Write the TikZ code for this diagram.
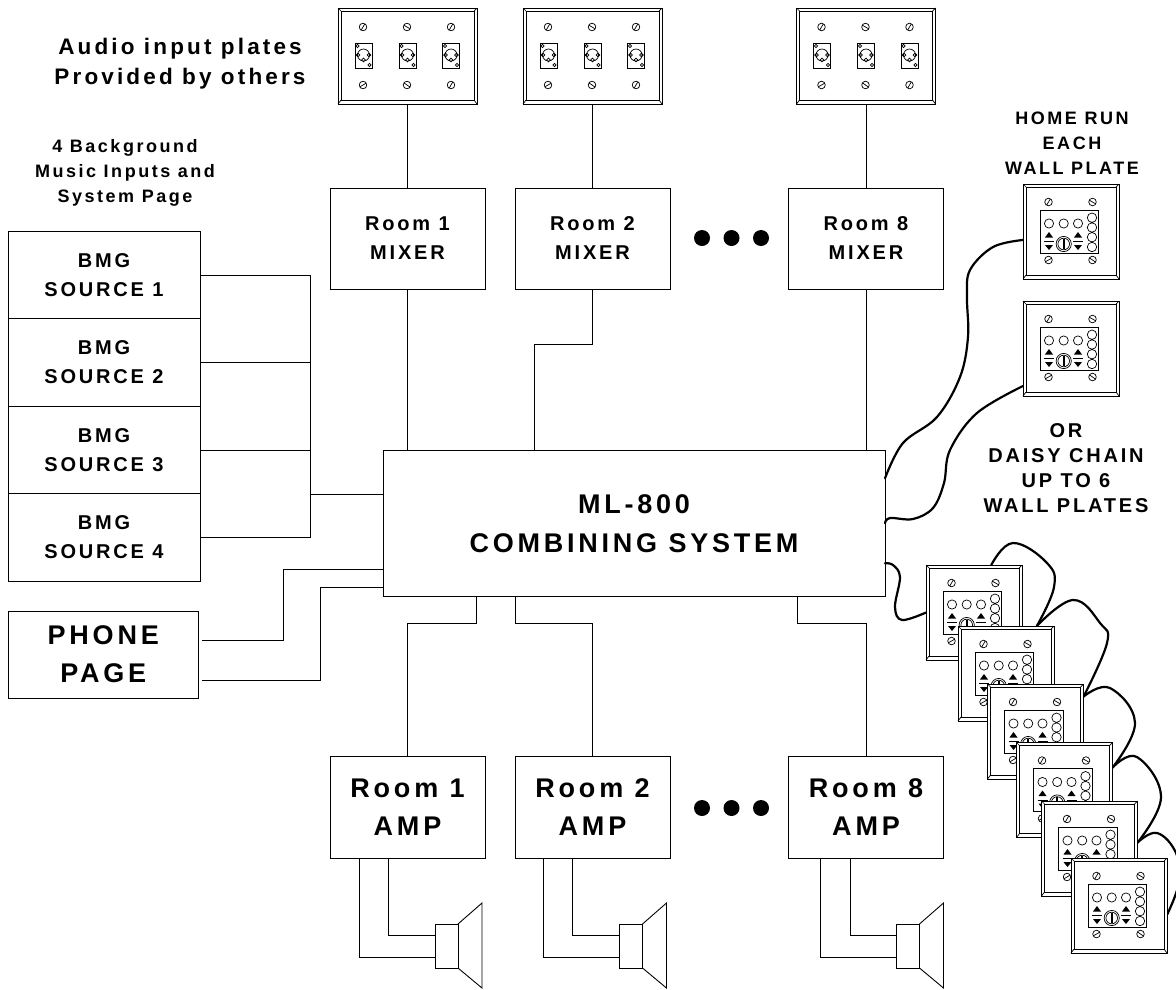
\documentclass[tikz,border=0pt]{standalone}
\usepackage{fontspec}
\setmainfont[LetterSpace=14]{Liberation Sans}
\usetikzlibrary{positioning,calc,backgrounds}

\newcommand\screwmark[3]{\draw[thin] (#1,#2) circle (3.8) (#1,#2) ++(#3:3.8) -- ++(#3+180:7.6);}
\newcommand\bevel[2]{
  \draw[thin] (3,3) rectangle (#1-3,#2-4);
  \draw[thin] (0,0)--(3,3) (#1,0)--(#1-3,3) (0,#2)--(3,#2-4) (#1,#2)--(#1-3,#2-4);}
\newcommand\arrowpair[1]{
  \fill (#1-4,53.5)--(#1+4,53.5)--(#1,48)--cycle;
  \draw[thin] (#1-5,57.5)--(#1+5,57.5);
  \fill (#1-4,61)--(#1+4,61)--(#1,66)--cycle;}
\newcommand\wallplate[3]{
  \node[plate] (#1) at (#2,#3) {};
  \begin{scope}[shift={(#1.north west)}]
    \bevel{96}{95}
    \screwmark{25.5}{18}{-60}\screwmark{69.5}{18}{30}
    \screwmark{25.5}{76}{-30}\screwmark{69.5}{76}{35}
    \draw[thin] (17,26) rectangle (75.5,69);
    \draw[thin] (26,39.5) circle (4.6) (40.7,39.5) circle (4.6) (55,39.5) circle (4.6);
    \draw[thin] (69,33.7) circle (4.7) (69,43.5) circle (4.7) (69,53.2) circle (4.7) (69,63) circle (4.7);
    \arrowpair{26}\arrowpair{55}
    \draw[thin] (40.7,60) circle (7.6) (40.7,60) circle (5.8);
    \fill (39.7,54.5) rectangle (41.7,64.5);
  \end{scope}}
\newcommand\xlrmark[1]{
  \draw[thin] (#1-8.5,35) rectangle (#1+8.5,60);
  \draw[thin] (#1,47) circle (6) (#1-5.5,47) circle (1.8) (#1+5.5,47) circle (1.8) (#1,52) circle (1.8)
    (#1-6,38) circle (1.6) (#1+6,57) circle (1.6);}
\newcommand\inputplate[2]{
  \node[plate,minimum width=139pt,minimum height=96pt,#2] (#1) {};
  \begin{scope}[shift={(#1.north west)}]
    \bevel{139}{96}
    \screwmark{25}{19}{-60}\screwmark{69}{19}{30}\screwmark{113}{19}{-60}
    \screwmark{25}{77}{-30}\screwmark{69}{77}{35}\screwmark{113}{77}{-60}
    \xlrmark{25.5}\xlrmark{69.5}\xlrmark{113}
  \end{scope}}

\begin{document}
\begin{tikzpicture}[x=1pt,y=-1pt,line width=.9pt,inner sep=0pt,outer sep=0pt,
  thin/.style={line width=.7pt},
  wire/.style={line width=2.2pt,line cap=round},
  plate/.style={draw,fill=white,line width=.9pt,minimum width=96pt,minimum height=95pt},
  txt/.style={align=center,font=\fontsize{18}{25}\selectfont\bfseries},
  mixer/.style={draw,minimum width=155pt,minimum height=101pt,align=center,font=\fontsize{20}{29}\selectfont\bfseries},
  amp/.style={draw,minimum width=155pt,minimum height=102pt,align=center,font=\fontsize{27}{38}\selectfont\bfseries},
  bmg/.style={draw,minimum width=192pt,minimum height=87.5pt,align=center,font=\fontsize{20}{29}\selectfont\bfseries},
  spk/.style={draw,minimum width=23pt,minimum height=44pt},
  dotmark/.style={circle,fill=black,minimum size=16pt}]
  \useasboundingbox (0,0) rectangle (1176,989);

  \node[draw,minimum width=502pt,minimum height=146.5pt,align=center,font=\fontsize{27}{39}\selectfont\bfseries] (main) at (634,523.25) {ML-800\\COMBINING SYSTEM};

  \node[mixer] (mix1) at (407.5,238.5) {Room 1\\MIXER};
  \node[mixer,right=30pt of mix1] (mix2) {Room 2\\MIXER};
  \node[mixer,right=118.5pt of mix2] (mix8) {Room 8\\MIXER};
  \inputplate{in1}{above=84pt of mix1}
  \inputplate{in2}{above=84pt of mix2}
  \inputplate{in8}{above=84pt of mix8}
  \draw (in1) -- (mix1); \draw (in2) -- (mix2); \draw (in8) -- (mix8);

  \node[amp,below=467pt of mix1] (amp1) {Room 1\\AMP};
  \node[amp,below=467pt of mix2] (amp2) {Room 2\\AMP};
  \node[amp,below=467pt of mix8] (amp8) {Room 8\\AMP};

  \node[dotmark] (dm1) at (702,238) {};
  \node[dotmark,right=13.5pt of dm1] (dm2) {};
  \node[dotmark,right=13.5pt of dm2] (dm3) {};
  \node[dotmark] (da1) at (702,808) {};
  \node[dotmark,right=13.5pt of da1] (da2) {};
  \node[dotmark,right=13.5pt of da2] (da3) {};

  \coordinate (mid2) at (534,344);
  \draw (mix1) -- (mix1 |- main.north);
  \draw (mix2.south) |- (mid2) -- (mid2 |- main.north);
  \draw (mix8) -- (mix8 |- main.north);

  \coordinate (dn1) at (476,623);
  \coordinate (dn2) at (515,623);
  \coordinate (dn8) at (797,623);
  \draw (dn1 |- main.south) -- (dn1) -| (amp1.north);
  \draw (dn2 |- main.south) -- (dn2) -| (amp2.north);
  \draw (dn8 |- main.south) -- (dn8) -| (amp8.north);

  \foreach \n/\dx/\wa/\wb in {1/39/-19.5/-48.5,2/38.5/-20.5/-49,8/42/-16/-46}{
    \node[spk] (spk\n) at ($(amp\n.south)+(\dx,88)$) {};
    \draw (spk\n.north east) -- ++(24,-21) -- ++(0,85) -- (spk\n.south east);
    \draw ($(amp\n.south)+(\wa,0)$) |- ($(spk\n.west)+(0,-11)$);
    \draw ($(amp\n.south)+(\wb,0)$) |- ($(spk\n.west)+(0,11)$);
  }

  \node[bmg] (bmg1) at (104,275) {BMG\\SOURCE 1};
  \node[bmg,below=0pt of bmg1] (bmg2) {BMG\\SOURCE 2};
  \node[bmg,below=0pt of bmg2] (bmg3) {BMG\\SOURCE 3};
  \node[bmg,below=0pt of bmg3] (bmg4) {BMG\\SOURCE 4};
  \coordinate (bus) at (310,494);
  \draw (bmg1.east) -| (bus);
  \draw (bmg2.east) -| (bus);
  \draw (bmg3.east) -| (bus);
  \draw (bmg4.east) -| (bus);
  \draw (bus) -- (bus -| main.west);

  \node[draw,minimum width=190.5pt,minimum height=87pt,align=center,font=\fontsize{27}{38}\selectfont\bfseries] (phone) at (103.25,654.5) {PHONE\\PAGE};
  \coordinate (ph1) at (202,640);
  \coordinate (ph2) at (202,680);
  \coordinate (pa1) at (283,569);
  \coordinate (pa2) at (320,587);
  \draw (ph1) -| (pa1) -- (pa1 -| main.west);
  \draw (ph2) -| (pa2) -- (pa2 -| main.west);

  \node[txt,font=\fontsize{22.5}{30}\selectfont\bfseries] (title) at (180,64) {Audio input plates\\Provided by others};
  \node[txt] (bginfo) at (125,173) {4 Background\\Music Inputs and\\System Page};
  \node[txt] (homerun) at (1072,143) {HOME RUN\\EACH\\WALL PLATE};
  \node[txt,font=\fontsize{20}{25}\selectfont\bfseries] (daisy) at (1066,468) {OR\\DAISY CHAIN\\UP TO 6\\WALL PLATES};

  \wallplate{home1}{1071}{231.5}
  \wallplate{home2}{1071}{348.5}
  \wallplate{dp1}{974}{612.5}
  \wallplate{dp2}{1006}{673.5}
  \wallplate{dp3}{1035.5}{731.5}
  \wallplate{dp4}{1064.5}{790}
  \wallplate{dp5}{1089.5}{848.5}
  \wallplate{dp6}{1119}{905.5}

  \begin{scope}[on background layer]
  \draw[wire] plot[smooth,tension=.6] coordinates {($(main.east)+(0,-45)$) (903,443) (937,417) (960,377) (968,337) (967,297) (970,270) (993,247) (home1.190)};
  \draw[wire] plot[smooth,tension=.6] coordinates {(main.east) (890,518) (913,519) (933,508) (944,483) (950,450) (977,413) (home2.218)};
  \draw[wire] plot[smooth,tension=.6] coordinates {($(main.east)+(0,40)$) (893,565) (900,577) (895,607) (902,620) (dp1.west)};
  \draw[wire] plot[smooth,tension=.7] coordinates {(dp1.70) (1013,543) (1047,563) (1054,587) (dp2.57)};
  \draw[wire] plot[smooth,tension=.7] coordinates {(dp2.57) (1073,600) (1100,623) (1107,643) (dp3.36)};
  \draw[wire] plot[smooth,tension=.7] coordinates {(dp3.36) (1110,688) (1135,723) (dp4.25)};
  \draw[wire] plot[smooth,tension=.7] coordinates {(dp4.25) (1137,757) (1161,797) (dp5.7)};
  \draw[wire] plot[smooth,tension=.7] coordinates {(dp5.7) (1157,833) (1176,853) (1179,882) (dp6.-11)};
  \end{scope}
\end{tikzpicture}
\end{document}
